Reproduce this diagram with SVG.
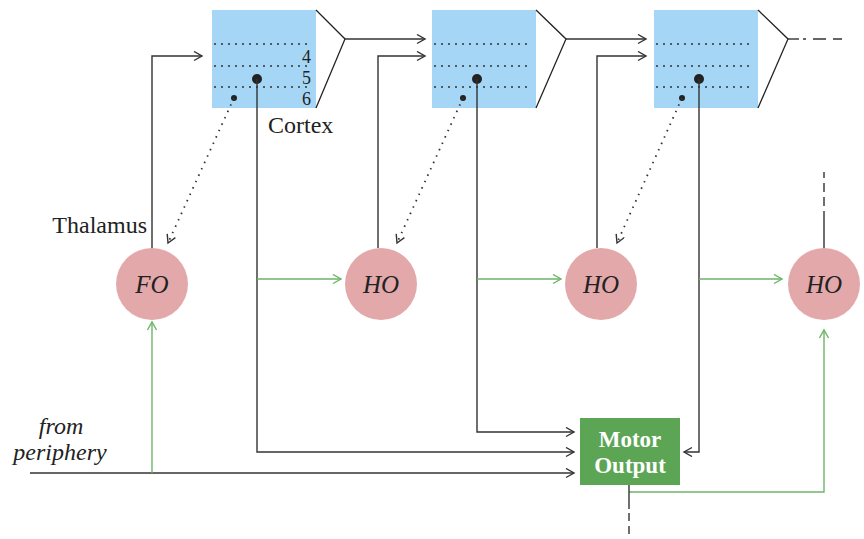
<svg xmlns="http://www.w3.org/2000/svg" width="864" height="539" viewBox="0 0 864 539">
<style>
.ln{fill:none;stroke:#333;stroke-width:1.4}
.gr{fill:none;stroke:#6db567;stroke-width:1.4}
.dot{fill:none;stroke:#333;stroke-width:1.8;stroke-dasharray:1.5 5.5}
.layer{fill:none;stroke:#333;stroke-width:1.6;stroke-dasharray:2 5}
.box{fill:#a6d6f5}
.tri{fill:none;stroke:#222;stroke-width:1.3}
.nuc{fill:#e3a8aa}
.lbl{font-family:"Liberation Serif",serif;font-size:24px;fill:#222}
.it{font-family:"Liberation Serif",serif;font-style:italic;font-size:25px;fill:#222}
.it2{font-family:"Liberation Serif",serif;font-style:italic;font-size:24px;fill:#222}
.num{font-family:"Liberation Serif",serif;font-size:18px;fill:#222;text-anchor:end}
.mo{font-family:"Liberation Serif",serif;font-weight:bold;font-size:23px;fill:#fff;text-anchor:middle}
</style>
<defs>
<marker id="ab" markerUnits="userSpaceOnUse" markerWidth="12" markerHeight="12" refX="9" refY="5" orient="auto"><path d="M1,0.5 L9,5 L1,9.5" fill="none" stroke="#333" stroke-width="1.4"/></marker>
<marker id="ag" markerUnits="userSpaceOnUse" markerWidth="12" markerHeight="12" refX="9" refY="5" orient="auto"><path d="M1,0.5 L9,5 L1,9.5" fill="none" stroke="#6db567" stroke-width="1.4"/></marker>
</defs>

<g id="cortex1">
<rect class="box" x="212" y="10" width="104" height="98"/>
<path class="layer" d="M214,44 H312 M214,66 H312 M214,87 H312"/>
<path class="tri" d="M316,10 L345,39 L316,108"/>
<text class="num" x="311" y="63">4</text>
<text class="num" x="311" y="84">5</text>
<text class="num" x="311" y="105">6</text>
<circle cx="257" cy="79" r="5" fill="#222"/>
<circle cx="234" cy="98" r="3" fill="#222"/>
<text class="lbl" x="268" y="133">Cortex</text>
</g>
<g id="cortex2">
<rect class="box" x="432" y="10" width="104" height="98"/>
<path class="layer" d="M434,44 H532 M434,66 H532 M434,87 H532"/>
<path class="tri" d="M536,10 L566,39 L536,108"/>
<circle cx="477" cy="79" r="5" fill="#222"/>
<circle cx="463" cy="98" r="3" fill="#222"/>
</g>
<g id="cortex3">
<rect class="box" x="654" y="10" width="104" height="98"/>
<path class="layer" d="M656,44 H754 M656,66 H754 M656,87 H754"/>
<path class="tri" d="M758,10 L788,39 L758,108"/>
<circle cx="699" cy="79" r="5" fill="#222"/>
<circle cx="682" cy="98" r="3" fill="#222"/>
</g>

<g id="fo">
<circle class="nuc" cx="152" cy="284" r="36"/>
<text class="it" x="152" y="293" text-anchor="middle">FO</text>
<text class="lbl" x="147" y="233" text-anchor="end">Thalamus</text>
</g>
<g id="ho1">
<circle class="nuc" cx="381" cy="284" r="36"/>
<text class="it" x="381" y="293" text-anchor="middle">HO</text>
</g>
<g id="ho2">
<circle class="nuc" cx="601" cy="284" r="36"/>
<text class="it" x="601" y="293" text-anchor="middle">HO</text>
</g>
<g id="ho3">
<circle class="nuc" cx="824" cy="284" r="36"/>
<text class="it" x="824" y="293" text-anchor="middle">HO</text>
</g>
<g id="motor">
<rect x="580" y="418" width="100" height="67" fill="#5ca555"/>
<text class="mo" x="630" y="447">Motor</text>
<text class="mo" x="630" y="473">Output</text>
</g>
<g id="periphery">
<text class="it2" x="61" y="434" text-anchor="middle">from</text>
<text class="it2" x="60" y="460" text-anchor="middle">periphery</text>
</g>

<g id="connectors">
<path class="ln" d="M345,39 H425" marker-end="url(#ab)"/>
<path class="ln" d="M566,39 H646" marker-end="url(#ab)"/>
<path class="ln" d="M788,39 H799"/>
<path class="ln" d="M803,39 H806 M813,39 H826 M833,39 H842"/>
<path class="ln" d="M152,248 V56 H202" marker-end="url(#ab)"/>
<path class="ln" d="M378,248 V56 H425" marker-end="url(#ab)"/>
<path class="ln" d="M597,248 V56 H646" marker-end="url(#ab)"/>
<path class="dot" d="M234,98 L168,243" marker-end="url(#ab)"/>
<path class="dot" d="M463,98 L397,243" marker-end="url(#ab)"/>
<path class="dot" d="M682,98 L617,243" marker-end="url(#ab)"/>
<path class="ln" d="M257,79 V452 H574" marker-end="url(#ab)"/>
<path class="ln" d="M477,79 V432 H574" marker-end="url(#ab)"/>
<path class="ln" d="M699,79 V452 H684" marker-end="url(#ab)"/>
<path class="ln" d="M30,473 H574" marker-end="url(#ab)"/>
<path class="gr" d="M152,473 V322" marker-end="url(#ag)"/>
<path class="gr" d="M257,279 H341" marker-end="url(#ag)"/>
<path class="gr" d="M477,279 H561" marker-end="url(#ag)"/>
<path class="gr" d="M699,279 H782" marker-end="url(#ag)"/>
<path class="gr" d="M629,492 H824 V330" marker-end="url(#ag)"/>
<path class="ln" d="M629,485 V509"/>
<path class="ln" stroke-dasharray="8 5" d="M629,513 V539"/>
<path class="ln" d="M824,248 V211"/>
<path class="ln" stroke-dasharray="9 5" d="M824,206 V172"/>
</g>
</svg>
